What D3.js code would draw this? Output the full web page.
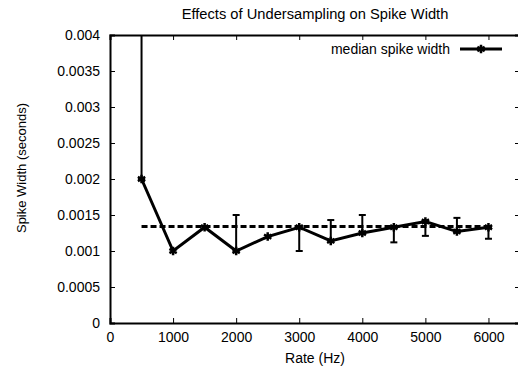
<!DOCTYPE html>
<html>
<head>
<meta charset="utf-8">
<script src="https://cdn.jsdelivr.net/npm/d3@7"></script>
<style>
  body { margin: 0; background: #fff; }
  text { font-family: "Liberation Sans", Arial, sans-serif; fill: #000; }
</style>
</head>
<body>
<div id="chart"></div>
<script>
// values
const rates = [500, 1000, 1500, 2000, 2500, 3000, 3500, 4000, 4500, 5000, 5500, 6000]
const median = [0.002, 0.001, 0.00133, 0.001, 0.0012, 0.00133, 0.00114, 0.00125, 0.00133, 0.00141, 0.00127, 0.00133]
const errLow = [0.002, 0.001, 0.00133, 0.001, 0.0012, 0.001, 0.00114, 0.00125, 0.00112, 0.00121, 0.00127, 0.00117]
const errHigh = [0.0045, 0.001, 0.00133, 0.0015, 0.0012, 0.00133, 0.00143, 0.0015, 0.00133, 0.00141, 0.00146, 0.00133]
const meanLine = 0.00134
const xTicks = [0, 1000, 2000, 3000, 4000, 5000, 6000]
const yTicks = [0, 0.0005, 0.001, 0.0015, 0.002, 0.0025, 0.003, 0.0035, 0.004]

const w = 518, h = 370
const m = { left: 110, right: 520, top: 35, bottom: 323 }
const fs = '14px'

const svg = d3.select('#chart').append('svg')
    .attr('width', w)
    .attr('height', h)

const x = d3.scaleLinear().domain([0, 6500]).range([m.left, m.right])
const y = d3.scaleLinear().domain([0, 0.004]).range([m.bottom, m.top])

svg.append('defs').append('clipPath').attr('id', 'clip')
    .append('rect')
    .attr('x', m.left).attr('y', m.top)
    .attr('width', m.right - m.left).attr('height', m.bottom - m.top)

// axes, ticks pointing inward on all four sides
svg.append('g')
    .attr('transform', `translate(0,${m.bottom})`)
    .call(d3.axisBottom(x).tickValues(xTicks).tickSize(-5).tickPadding(9).tickFormat(d3.format('d')))
svg.append('g')
    .attr('transform', `translate(0,${m.top})`)
    .call(d3.axisTop(x).tickValues(xTicks).tickSize(-5).tickFormat(''))
svg.append('g')
    .attr('transform', `translate(${m.left},0)`)
    .call(d3.axisLeft(y).tickValues(yTicks).tickSize(-5).tickPadding(10).tickFormat(d => d === 0 ? '0' : String(+d.toFixed(4))))
svg.append('g')
    .attr('transform', `translate(${m.right},0)`)
    .call(d3.axisRight(y).tickValues(yTicks).tickSize(-5).tickFormat(''))

svg.selectAll('.domain').attr('stroke', '#000').attr('stroke-width', 2)
svg.selectAll('.tick line').attr('stroke', '#000').attr('stroke-width', 1)
svg.selectAll('.tick text').style('font-size', fs).style('font-family', '"Liberation Sans", Arial, sans-serif')

// labels
svg.append('text')
    .attr('x', 315).attr('y', 18.5)
    .style('text-anchor', 'middle').style('font-size', '14.7px')
    .text('Effects of Undersampling on Spike Width')
svg.append('text')
    .attr('x', 315).attr('y', 363)
    .style('text-anchor', 'middle').style('font-size', fs)
    .text('Rate (Hz)')
svg.append('text')
    .attr('transform', 'rotate(-90)')
    .attr('x', -168).attr('y', 26)
    .style('text-anchor', 'middle').style('font-size', '13px')
    .text('Spike Width (seconds)')

const plot = svg.append('g').attr('clip-path', 'url(#clip)')

// dashed reference line
plot.append('line')
    .attr('x1', x(rates[0])).attr('x2', x(rates[rates.length - 1]))
    .attr('y1', y(meanLine)).attr('y2', y(meanLine))
    .attr('stroke', '#000').attr('stroke-width', 3)
    .attr('stroke-dasharray', '6,3')

// error bars
rates.forEach((r, i) => {
    if (errHigh[i] === errLow[i]) return
    const g = plot.append('g').attr('stroke', '#000').attr('stroke-width', 2)
    g.append('line').attr('x1', x(r)).attr('x2', x(r)).attr('y1', y(errLow[i])).attr('y2', y(errHigh[i]))
    g.append('line').attr('x1', x(r) - 3.5).attr('x2', x(r) + 3.5).attr('y1', y(errLow[i])).attr('y2', y(errLow[i]))
    g.append('line').attr('x1', x(r) - 3.5).attr('x2', x(r) + 3.5).attr('y1', y(errHigh[i])).attr('y2', y(errHigh[i]))
})

// median line
const line = d3.line().x((d, i) => x(rates[i])).y(d => y(d))
plot.append('path')
    .datum(median)
    .attr('d', line)
    .attr('fill', 'none')
    .attr('stroke', '#000')
    .attr('stroke-width', 3)
    .attr('stroke-linejoin', 'miter')

const marker = d3.symbol().type(d3.symbolAsterisk).size(50)
plot.selectAll('.pt')
    .data(median)
    .enter()
    .append('path')
    .attr('transform', (d, i) => `translate(${x(rates[i])},${y(d)})`)
    .attr('d', marker)
    .attr('fill', 'none')
    .attr('stroke', '#000')
    .attr('stroke-width', 2.5)

// legend
const ly = 49
svg.append('text')
    .attr('x', 450).attr('y', ly + 5)
    .style('text-anchor', 'end').style('font-size', fs)
    .text('median spike width')
svg.append('line')
    .attr('x1', 460).attr('x2', 502).attr('y1', ly).attr('y2', ly)
    .attr('stroke', '#000').attr('stroke-width', 3)
svg.append('path')
    .attr('transform', `translate(481,${ly})`)
    .attr('d', marker)
    .attr('fill', 'none').attr('stroke', '#000').attr('stroke-width', 2.5)
</script>
</body>
</html>
